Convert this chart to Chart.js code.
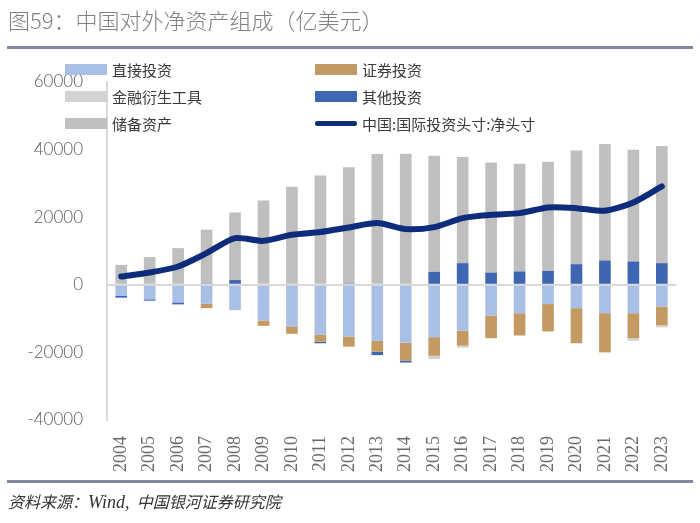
<!DOCTYPE html>
<html>
<head>
<meta charset="utf-8">
<script src="https://cdn.jsdelivr.net/npm/chart.js@4"></script>
<style>
  body { margin: 0; background: #fff; }
  #wrap { position: relative; width: 700px; height: 523px; overflow: hidden; }
  #chart { position: absolute; left: 0; top: 0; }
  .title { position: absolute; left: 8px; top: 3px; font: 300 22px "Noto Sans CJK SC"; color: #808080; white-space: nowrap; }
  .rule { position: absolute; left: 7px; width: 686px; height: 3px; background: #7f8aa0; }
  .source { position: absolute; left: 8px; top: 489px; font: italic 16px "Noto Sans CJK SC"; color: #333; white-space: nowrap; }
  .source em { font-family: "Liberation Serif"; font-size: 18px; }
  .lg { position: absolute; height: 20px; font: 15px "Noto Sans CJK SC"; color: #3a3a3a; white-space: nowrap; z-index: 2; }
  .lg i { position: absolute; left: 0; top: 4px; width: 42px; height: 11px; }
  .lg span { position: absolute; left: 47px; top: -1px; }
</style>
</head>
<body>
<div id="wrap">
  <canvas id="chart" width="700" height="523"></canvas>
  <div class="title">图59：中国对外净资产组成（亿美元）</div>
  <div class="rule" style="top:46px"></div>
  <div class="rule" style="top:480px"></div>
  <div class="source">资料来源：<em>Wind,</em>&nbsp; 中国银河证券研究院</div>
  <div id="legend"></div>
</div>
<script>
// data (亿美元)
const years = ['2004','2005','2006','2007','2008','2009','2010','2011','2012','2013',
               '2014','2015','2016','2017','2018','2019','2020','2021','2022','2023'];
const directInv = [-3300,-4300,-5200,-5600,-7500,-10550,-12300,-14800,-15300,-16600,
                   -17100,-15500,-13600,-9100,-8400,-5700,-6900,-8400,-8400,-6400];
const securities = [0,0,0,-1300,0,-1600,-2200,-2000,-3000,-3200,
                    -5300,-5500,-4400,-6700,-6600,-8100,-10400,-11600,-7400,-5600];
const derivatives = [0,0,0,0,0,0,0,0,0,0,
                     0,-1000,-600,0,0,0,0,0,-800,-600];
const otherInv = [-500,-400,-600,400,1400,0,0,-500,400,-1000,
                  -600,3850,6400,3600,3950,4150,6100,7200,6900,6400];
const reserves = [5900,8200,10850,15900,20000,24950,29000,32350,34400,38670,
                  38760,34300,31400,32600,31900,32250,33650,34450,33050,34700];
const netPosition = [2460,3640,5420,9370,13800,13000,14800,15600,16960,18250,
                     16470,17070,19730,20700,21200,22880,22680,21900,24350,29100];
const yTicks = [-40000,-20000,0,20000,40000,60000];

const names = ['直接投资','证券投资','金融衍生工具','其他投资','储备资产','中国:国际投资头寸:净头寸'];
const colors = ['#a9bfe6','#c39a63','#d3d3d3','#3f66b0','#bfbfbf','#0e2c7c'];
const barSeries = [directInv, securities, derivatives, otherInv, reserves];

const datasets = barSeries.map((d, i) => ({
  type: 'bar',
  label: names[i],
  data: d,
  backgroundColor: colors[i],
  stack: 'bars',
  order: 1,
  categoryPercentage: 1,
  barPercentage: 0.41
}));
datasets.push({
  type: 'line',
  label: names[5],
  data: netPosition,
  borderColor: colors[5],
  borderWidth: 6,
  borderCapStyle: 'round',
  tension: 0.25,
  pointRadius: 0,
  stack: 'net',
  order: 0
});

// html legend, two columns
const legend = document.getElementById('legend');
names.forEach((n, i) => {
  const el = document.createElement('div');
  el.className = 'lg';
  el.style.left = (i % 2 === 0 ? 65 : 315) + 'px';
  el.style.top = (60 + Math.floor(i / 2) * 27) + 'px';
  const sw = i === 5
    ? '<i style="background:' + colors[i] + ';height:5px;top:7px;border-radius:3px"></i>'
    : '<i style="background:' + colors[i] + '"></i>';
  el.innerHTML = sw + '<span>' + n + '</span>';
  legend.appendChild(el);
});

new Chart(document.getElementById('chart'), {
  data: { labels: years, datasets: datasets },
  options: {
    responsive: false,
    animation: false,
    devicePixelRatio: 1,
    layout: { padding: { top: 82, right: 23, left: 0, bottom: 0 } },
    plugins: { legend: { display: false }, tooltip: { enabled: false } },
    scales: {
      x: {
        stacked: true,
        grid: { display: false, drawTicks: false },
        border: { display: false },
        ticks: {
          minRotation: 90, maxRotation: 90, padding: 16,
          color: '#6a6a6a',
          font: { family: 'Liberation Serif', size: 18 }
        },
        afterFit: (s) => { s.height = 103; }
      },
      y: {
        stacked: true,
        min: -40000, max: 60000,
        z: 1,
        afterBuildTicks: (s) => { s.ticks = yTicks.map(v => ({ value: v })); },
        grid: {
          drawTicks: false,
          color: (c) => c.tick && c.tick.value === 0 ? '#d9d9d9' : 'rgba(0,0,0,0)',
          lineWidth: 2
        },
        border: { display: true, color: '#d9d9d9', width: 2 },
        ticks: {
          padding: 24,
          color: '#595959',
          font: { family: 'Lato', size: 17, weight: 300 },
          callback: (v) => String(v)
        },
        afterFit: (s) => { s.width = 107; }
      }
    }
  }
});
</script>
</body>
</html>
